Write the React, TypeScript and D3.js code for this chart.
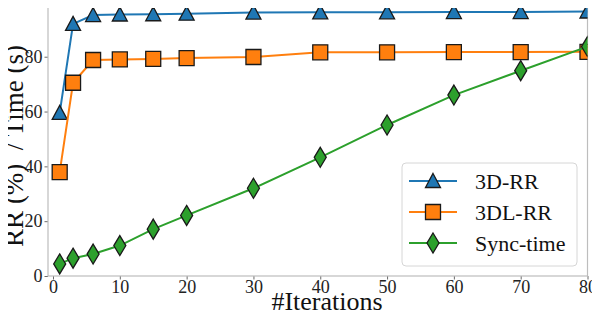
import React, { useEffect, useRef } from 'react';
import * as d3 from 'd3';

const iterations = [1, 3, 6, 10, 15, 20, 30, 40, 50, 60, 70, 80];
const rr3d = [59.5, 92.0, 95.2, 95.4, 95.5, 95.7, 96.1, 96.2, 96.2, 96.3, 96.3, 96.5];
const rr3dl = [37.9, 70.5, 78.8, 79.0, 79.2, 79.5, 79.9, 81.6, 81.6, 81.7, 81.7, 81.8];
const syncTime = [4.4, 6.5, 8.0, 11.1, 17.1, 22.1, 32.0, 43.3, 55.1, 66.0, 74.9, 83.7];
const xTicks = [0, 10, 20, 30, 40, 50, 60, 70, 80];
const yTicks = [0, 20, 40, 60, 80];

const seriesNames = ['3D-RR', '3DL-RR', 'Sync-time'];
const seriesColors = ['#1f77b4', '#ff7f0e', '#2ca02c'];
const seriesShapes = ['triangle', 'square', 'diamond'];

const FONT = '"Liberation Serif", "Times New Roman", serif';

const markerPath = (shape: string) => {
  if (shape === 'triangle') return 'M0,-7.5 L7.5,6.5 L-7.5,6.5 Z';
  if (shape === 'square') return 'M-7.5,-7.5 L7.5,-7.5 L7.5,7.5 L-7.5,7.5 Z';
  return 'M0,-10 L6,0 L0,10 L-6,0 Z';
};

const Chart: React.FC = () => {
  const svgRef = useRef<SVGSVGElement>(null);

  useEffect(() => {
    if (!svgRef.current) return;
    const svg = d3.select(svgRef.current);
    svg.selectAll('*').remove();

    const left = 48, right = 587.5, top = 3, bottom = 276;

    const x = d3.scaleLinear().domain([-0.75, 80]).range([left, right]);
    const y = d3.scaleLinear().domain([0, 99.6]).range([bottom, top]);

    svg.append('defs').append('clipPath').attr('id', 'plot-clip')
      .append('rect')
      .attr('x', left).attr('y', top)
      .attr('width', right - left).attr('height', bottom - top);

    // Axes
    const xAxis = svg.append('g')
      .attr('transform', `translate(0,${bottom})`)
      .call(d3.axisBottom(x).tickValues(xTicks).tickSize(3.5).tickPadding(1));
    const yAxis = svg.append('g')
      .attr('transform', `translate(${left},0)`)
      .call(d3.axisLeft(y).tickValues(yTicks).tickSize(3.5).tickPadding(2));

    [xAxis, yAxis].forEach(a => {
      a.select('.domain').remove();
      a.selectAll('line').attr('stroke', '#444').attr('stroke-width', 0.8);
      a.selectAll('text')
        .attr('fill', '#222')
        .style('font-family', FONT)
        .style('font-size', '18px');
    });

    // Frame
    svg.append('rect')
      .attr('x', left).attr('y', top)
      .attr('width', right - left).attr('height', bottom - top)
      .attr('fill', 'none')
      .attr('stroke', '#bdbdbd')
      .attr('stroke-width', 1.2);

    const plot = svg.append('g').attr('clip-path', 'url(#plot-clip)');
    const allSeries = [rr3d, rr3dl, syncTime];

    const line = d3.line<number>()
      .x((_, i) => x(iterations[i]))
      .y(d => y(d));

    allSeries.forEach((values, s) => {
      plot.append('path')
        .datum(values)
        .attr('fill', 'none')
        .attr('stroke', seriesColors[s])
        .attr('stroke-width', 2)
        .attr('d', line);

      plot.selectAll(null)
        .data(values)
        .enter()
        .append('path')
        .attr('d', markerPath(seriesShapes[s]))
        .attr('transform', (d, i) => `translate(${x(iterations[i])},${y(d)})`)
        .attr('fill', seriesColors[s])
        .attr('stroke', '#1a1a1a')
        .attr('stroke-width', 1.3);
    });

    // Legend
    const legend = svg.append('g').attr('transform', 'translate(402,163)');
    legend.append('rect')
      .attr('width', 175).attr('height', 103)
      .attr('rx', 4)
      .attr('fill', 'white').attr('fill-opacity', 0.8)
      .attr('stroke', '#d6d6d6');

    seriesNames.forEach((name, s) => {
      const cy = 18 + s * 31;
      legend.append('line')
        .attr('x1', 7).attr('x2', 55)
        .attr('y1', cy).attr('y2', cy)
        .attr('stroke', seriesColors[s]).attr('stroke-width', 2);
      legend.append('path')
        .attr('d', markerPath(seriesShapes[s]))
        .attr('transform', `translate(31,${cy})`)
        .attr('fill', seriesColors[s])
        .attr('stroke', '#1a1a1a')
        .attr('stroke-width', 1.3);
      legend.append('text')
        .attr('x', 73).attr('y', cy)
        .attr('dy', '0.35em')
        .style('font-family', FONT)
        .style('font-size', '22px')
        .attr('fill', '#111')
        .text(name);
    });

    // Axis titles
    svg.append('text')
      .attr('x', 327).attr('y', 310)
      .attr('text-anchor', 'middle')
      .style('font-family', FONT)
      .style('font-size', '26px')
      .attr('fill', '#111')
      .text('#Iterations');

    svg.append('text')
      .attr('transform', 'translate(23,146) rotate(-90)')
      .attr('text-anchor', 'middle')
      .style('font-family', FONT)
      .style('font-size', '27px')
      .style('white-space', 'pre')
      .attr('fill', '#111')
      .text('RR (%)  / Time (s)');
  }, []);

  return <svg ref={svgRef} width={600} height={318} style={{ display: 'block' }} />;
};

export default function App() {
  return (
    <div style={{ margin: -8, width: 600, height: 318, background: 'white' }}>
      <Chart />
    </div>
  );
}
